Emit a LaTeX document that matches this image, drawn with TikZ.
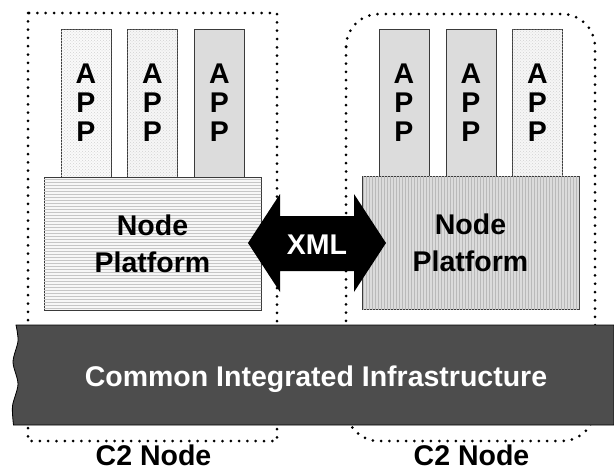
\documentclass[tikz,border=0pt]{standalone}
\usepackage{fontspec}
\setmainfont{Liberation Sans}
\usetikzlibrary{patterns}
\definecolor{band}{HTML}{4D4D4D}
\definecolor{appgray}{HTML}{DCDCDC}
\definecolor{edge}{HTML}{3A3A3A}
\tikzset{
  dotbox/.style={line width=3pt, line cap=round, dash pattern=on 0pt off 8.3pt},
  appbox/.style={draw=edge, line width=0.8pt, minimum width=50pt, minimum height=148pt,
    inner sep=0pt, align=center, font=\bfseries\fontsize{28.5}{29}\selectfont},
  apptexture/.style={fill=#1, postaction={pattern=crosshatch dots, pattern color=gray!35}},
  platbox/.style={draw=edge, line width=0.8pt, minimum width=217pt, minimum height=133pt,
    inner sep=0pt, align=center, font=\bfseries\fontsize{28.5}{36.7}\selectfont},
  bigtext/.style={font=\bfseries\fontsize{28.5}{30}\selectfont, inner sep=0pt},
}
\begin{document}
\begin{tikzpicture}[x=1pt,y=-1pt]
\useasboundingbox (0,0) rectangle (614,471);
% C2 node boundaries
\draw[dotbox] (28,13) rectangle (277,441);
\draw[dotbox, rounded corners=33pt] (346,14) rectangle (595,441);
% left node apps
\node[appbox, apptexture=white!96!gray] (la1) at (86,103) {A\\P\\P};
\node[appbox, apptexture=white!93!gray] (la2) at (152.5,103) {A\\P\\P};
\node[appbox, fill=appgray] (la3) at (219.5,103) {A\\P\\P};
% right node apps
\node[appbox, fill=appgray] (ra1) at (404,103) {A\\P\\P};
\node[appbox, fill=appgray] (ra2) at (471,103) {A\\P\\P};
\node[appbox, apptexture=white!93!gray] (ra3) at (537.5,103) {A\\P\\P};
% platforms
\node[platbox, fill=gray!6, postaction={pattern=horizontal lines, pattern color=gray!45}] (lp) at (152.5,243.5) {Node\\Platform};
\node[platbox, fill=gray!28, postaction={pattern=vertical lines, pattern color=gray!55}] (rp) at (470.5,243) {Node\\Platform};
% infrastructure band
\filldraw[fill=band, draw=black, line width=0.8pt]
  (614,325) -- (16,325)
  -- plot[smooth] coordinates {(16,325) (18,341) (13,362) (18,384) (12.5,406) (13.5,425)}
  -- (614,425) -- cycle;
\node[bigtext, text=white, anchor=base] (cii) at (316,386) {Common Integrated Infrastructure};
% XML double arrow
\fill[black] (248,243) -- (280,194) -- (280,216) -- (354,216) -- (354,194) -- (386,243)
  -- (354,292) -- (354,271) -- (280,271) -- (280,292) -- cycle;
\node[bigtext, text=white] (xml) at (317,244.5) {XML};
% labels
\node[bigtext, anchor=base] (c2l) at (153.5,465.5) {C2 Node};
\node[bigtext, anchor=base] (c2r) at (471.5,465.5) {C2 Node};
\end{tikzpicture}
\end{document}
